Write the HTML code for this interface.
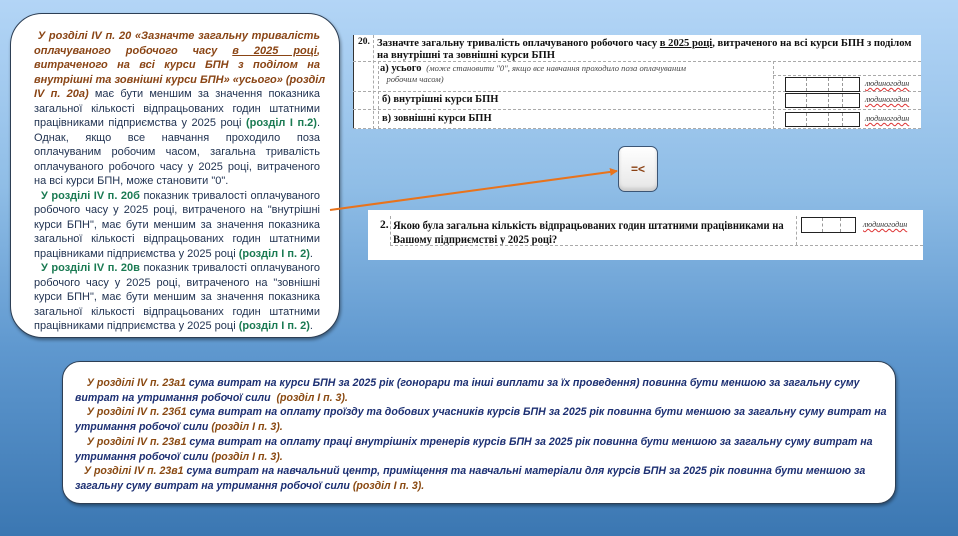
<!DOCTYPE html>
<html><head><meta charset="utf-8"><style>
*{margin:0;padding:0;box-sizing:border-box}
body{width:958px;height:536px;overflow:hidden;position:relative;font-family:"Liberation Sans","DejaVu Sans",sans-serif;
background:linear-gradient(180deg,#b3d5f6 0%,#8fbde6 35%,#5f98cf 65%,#3b77b2 100%);}
.box{position:absolute;background:#fff;border:1.5px solid #2d3f55;box-shadow:1px 2px 3px rgba(0,0,0,.4)}
#lb{left:10px;top:13px;width:330px;height:325px;border-radius:32px;padding:15px 19px 0 23px;font-size:11px;line-height:14.5px;color:#1f3150;white-space:nowrap}
#lb div{text-align:justify;text-align-last:justify}
#lb div.e{text-align-last:left}
.br{color:#8a4515;font-weight:bold;font-style:italic}
.gr{color:#1a7a52;font-weight:bold}
#bb{left:62px;top:361px;width:834px;height:143px;border-radius:18px;padding:14px 10px 0 12px;font-size:10.6px;line-height:14.7px;color:#1c2f72;font-weight:bold;font-style:italic;white-space:nowrap}
.bo{color:#8a4a12}
.form{position:absolute;background:#fff;font-family:"Liberation Serif",serif;font-size:10px;color:#111}
.dl{position:absolute;border-top:1px dashed #aaa;height:0}
.dv{position:absolute;border-left:1px dashed #aaa;width:0}
.cell{position:absolute;border:1.5px solid #222;height:15px;width:75px}
.cell i{position:absolute;top:0;bottom:0;border-left:1px dashed #999}
.ul{position:absolute;font-style:italic;font-size:8px;color:#333;text-decoration:underline wavy #d33;text-decoration-thickness:1px}
</style></head><body>
<div class="box" id="lb">
<div><span class="br">&nbsp;У розділі IV п. 20 «Зазначте загальну тривалість</span></div>
<div><span class="br">оплачуваного робочого часу <u>в 2025 році</u>,</span></div>
<div><span class="br">витраченого на всі курси БПН з поділом на</span></div>
<div><span class="br">внутрішні та зовнішні курси БПН» «усього» (розділ</span></div>
<div><span class="br">IV п. 20а)</span> має бути меншим за значення показника</div>
<div>загальної кількості відпрацьованих годин штатними</div>
<div>працівниками підприємства у 2025 році <span class="gr">(розділ І п.2)</span>.</div>
<div>Однак, якщо все навчання проходило поза</div>
<div>оплачуваним робочим часом, загальна тривалість</div>
<div>оплачуваного робочого часу у 2025 році, витраченого</div>
<div class="e">на всі курси БПН, може становити "0".</div>
<div>&nbsp;&nbsp;<span class="gr">У розділі IV п. 20б</span> показник тривалості оплачуваного</div>
<div>робочого часу у 2025 році, витраченого на "внутрішні</div>
<div>курси БПН", має бути меншим за значення показника</div>
<div>загальної кількості відпрацьованих годин штатними</div>
<div class="e">працівниками підприємства у 2025 році <span class="gr">(розділ І п. 2)</span>.</div>
<div>&nbsp;&nbsp;<span class="gr">У розділі IV п. 20в</span> показник тривалості оплачуваного</div>
<div>робочого часу у 2025 році, витраченого на "зовнішні</div>
<div>курси БПН", має бути меншим за значення показника</div>
<div>загальної кількості відпрацьованих годин штатними</div>
<div class="e">працівниками підприємства у 2025 році <span class="gr">(розділ І п. 2)</span>.</div>
</div>

<div class="form" style="left:353px;top:35px;width:568px;height:94px">
<div class="dv" style="left:0;top:0;height:94px;border-left:1.5px solid #333"></div>
<div class="dv" style="left:20px;top:0;height:94px"></div>
<div style="position:absolute;left:5px;top:2px;font-weight:bold;font-size:9.5px">20.</div>
<div style="position:absolute;left:24px;top:3px;font-weight:bold;font-size:10.6px;line-height:11.5px;width:545px;white-space:nowrap">Зазначте загальну тривалість оплачуваного робочого часу <u>в 2025 році</u>, витраченого на всі курси БПН з поділом<br>на внутрішні та зовнішні курси БПН</div>
<div class="dl" style="left:0;top:26px;width:568px"></div>
<div style="position:absolute;left:27px;top:28px;font-size:10.5px;line-height:11px;width:390px;white-space:nowrap"><b>а) усього</b> <i style="color:#444;font-size:8.6px">&nbsp;(може становити "0", якщо все навчання проходило поза оплачуваним<br>&nbsp;&nbsp;&nbsp;робочим часом)</i></div>
<div class="dv" style="left:25px;top:26px;height:68px"></div>
<div class="dv" style="left:420px;top:26px;height:68px"></div>
<div class="dl" style="left:420px;top:40px;width:148px"></div>
<div class="dl" style="left:0;top:56px;width:568px"></div>
<div class="dl" style="left:0;top:74px;width:568px"></div>
<div class="dl" style="left:0;top:93px;width:568px"></div>
<div style="position:absolute;left:29px;top:59px;font-weight:bold;font-size:10.5px">б) внутрішні курси БПН</div>
<div style="position:absolute;left:29px;top:78px;font-weight:bold;font-size:10.5px">в) зовнішні курси БПН</div>
<div class="cell" style="left:432px;top:42px"><i style="left:20px"></i><i style="left:42px"></i><i style="left:56px"></i></div>
<div class="cell" style="left:432px;top:58px"><i style="left:20px"></i><i style="left:42px"></i><i style="left:56px"></i></div>
<div class="cell" style="left:432px;top:77px"><i style="left:20px"></i><i style="left:42px"></i><i style="left:56px"></i></div>
<div class="ul" style="left:512px;top:44px">людиногодин</div>
<div class="ul" style="left:512px;top:60px">людиногодин</div>
<div class="ul" style="left:512px;top:79px">людиногодин</div>
</div>

<div class="form" style="left:368px;top:210px;width:555px;height:50px">
<div style="position:absolute;left:12px;top:9px;font-weight:bold;font-size:11.5px">2.</div>
<div class="dv" style="left:22px;top:6px;height:29px"></div>
<div style="position:absolute;left:25px;top:9px;font-weight:bold;font-size:11.5px;line-height:14px;white-space:nowrap;transform:scaleX(0.92);transform-origin:0 0">Якою була загальна кількість відпрацьованих годин штатними працівниками на<br>Вашому підприємстві у 2025 році?</div>
<div class="dv" style="left:428px;top:6px;height:29px"></div>
<div class="dl" style="left:22px;top:35px;width:533px"></div>
<div class="cell" style="left:433px;top:7px;width:55px;height:16px"><i style="left:20px"></i><i style="left:38px"></i></div>
<div class="ul" style="left:495px;top:10px">людиногодин</div>
</div>

<svg style="position:absolute;left:0;top:0" width="958" height="536">
<defs><marker id="a" markerWidth="8" markerHeight="8" refX="7" refY="4" orient="auto" markerUnits="userSpaceOnUse"><path d="M0,0 L8,4 L0,8z" fill="#e8731c"/></marker></defs>
<line x1="330" y1="210" x2="617" y2="171" stroke="#e8731c" stroke-width="2" marker-end="url(#a)"/>
</svg>
<div style="position:absolute;left:618px;top:146px;width:40px;height:46px;border:1.5px solid #3b5575;border-radius:7px;background:linear-gradient(#fff,#e6e6e6);box-shadow:inset 0 -3px 3px #ccc;color:#8a4012;font-weight:bold;font-size:12px;text-align:center;line-height:44px">=&lt;</div>

<div class="box" id="bb">
&nbsp;&nbsp;&nbsp;&nbsp;<span class="bo">У розділі IV п. 23а1</span> сума витрат на курси БПН за 2025 рік (гонорари та інші виплати за їх проведення) повинна бути меншою за загальну суму<br>витрат на утримання робочої сили &nbsp;<span class="bo">(розділ І п. 3).</span><br>
&nbsp;&nbsp;&nbsp;&nbsp;<span class="bo">У розділі IV п. 23б1</span> сума витрат на оплату проїзду та добових учасників курсів БПН за 2025 рік повинна бути меншою за загальну суму витрат на<br>утримання робочої сили <span class="bo">(розділ І п. 3).</span><br>
&nbsp;&nbsp;&nbsp;&nbsp;<span class="bo">У розділі IV п. 23в1</span> сума витрат на оплату праці внутрішніх тренерів курсів БПН за 2025 рік повинна бути меншою за загальну суму витрат на<br>утримання робочої сили <span class="bo">(розділ І п. 3).</span><br>
&nbsp;&nbsp;&nbsp;<span class="bo">У розділі IV п. 23в1</span> сума витрат на навчальний центр, приміщення та навчальні матеріали для курсів БПН за 2025 рік повинна бути меншою за<br>загальну суму витрат на утримання робочої сили <span class="bo">(розділ І п. 3).</span>
</div>
</body></html>
